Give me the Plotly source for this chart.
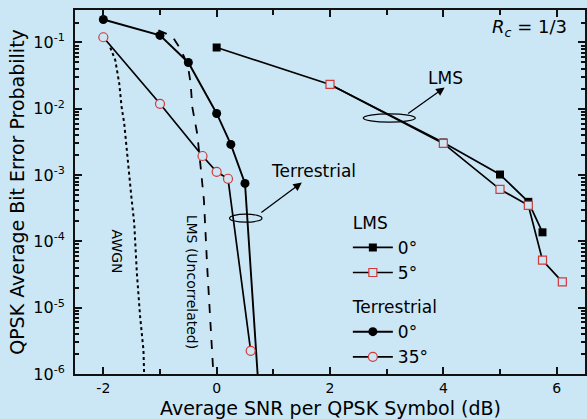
import plotly.graph_objects as go

# ---- data ----
lms0_x = [0, 2, 4, 5, 5.5, 5.75]
lms0_y = [0.084, 0.0233, 0.0031, 0.00102, 3.95e-4, 1.37e-4]

lms5_x = [2, 4, 5, 5.5, 5.75, 6.1]
lms5_y = [0.0233, 0.0030, 6.1e-4, 3.5e-4, 5.2e-5, 2.45e-5]

terr0_x = [-2, -1, -0.5, 0, 0.25, 0.5, 0.73]
terr0_y = [0.222, 0.128, 0.05, 0.0085, 0.0029, 7.5e-4, 8e-7]

terr35_x = [-2, -1, -0.25, 0, 0.2, 0.6]
terr35_y = [0.12, 0.0119, 0.00194, 0.00112, 8.8e-4, 2.24e-6]

awgn_x = [-1.877, -1.789, -1.719, -1.678, -1.631, -1.590, -1.543, -1.503, -1.455, -1.408, -1.350, -1.292, -1.28]
awgn_y = [0.084, 0.054, 0.024, 0.0107, 0.0060, 0.00238, 9.4e-4, 4.5e-4, 1.88e-4, 3.3e-5, 7.2e-6, 2.3e-6, 1.0e-6]

lmsu_x = [-1.028, -0.782, -0.664, -0.576, -0.501, -0.459, -0.431, -0.343, -0.283, -0.225, -0.167, -0.107, -0.062]
lmsu_y = [0.153, 0.124, 0.086, 0.061, 0.041, 0.024, 0.0107, 0.0042, 0.00133, 4.2e-4, 4.1e-5, 4.1e-6, 1.15e-6]

x_tickvals = [-2, 0, 2, 4, 6]
x_ticktext = ["-2", "0", "2", "4", "6"]
y_tickvals = [1e-6, 1e-5, 1e-4, 1e-3, 1e-2, 1e-1]
y_ticktext = ["10<sup>-6</sup>", "10<sup>-5</sup>", "10<sup>-4</sup>",
              "10<sup>-3</sup>", "10<sup>-2</sup>", "10<sup>-1</sup>"]

BG = "#cbe7f6"
RED = "#d23a3a"
FONT = "DejaVu Sans"

fig = go.Figure()

fig.add_trace(go.Scatter(x=awgn_x, y=awgn_y, mode="lines", showlegend=False,
                         line=dict(color="black", width=2, dash="dot")))
fig.add_trace(go.Scatter(x=lmsu_x, y=lmsu_y, mode="lines", showlegend=False,
                         line=dict(color="black", width=1.8, dash="dash")))

fig.add_trace(go.Scatter(x=lms0_x, y=lms0_y, mode="lines+markers", name="0°",
                         legendgroup="lms", legendgrouptitle_text="LMS",
                         line=dict(color="black", width=1.7),
                         marker=dict(symbol="square", size=8, color="black")))
fig.add_trace(go.Scatter(x=lms5_x, y=lms5_y, mode="lines+markers", name="5°",
                         legendgroup="lms",
                         line=dict(color="black", width=1.7),
                         marker=dict(symbol="square", size=8, color=BG,
                                     line=dict(color=RED, width=1.2))))
fig.add_trace(go.Scatter(x=terr0_x, y=terr0_y, mode="lines+markers", name="0°",
                         legendgroup="terr", legendgrouptitle_text="Terrestrial",
                         line=dict(color="black", width=1.9),
                         marker=dict(symbol="circle", size=9, color="black")))
fig.add_trace(go.Scatter(x=terr35_x, y=terr35_y, mode="lines+markers", name="35°",
                         legendgroup="terr",
                         line=dict(color="black", width=1.7),
                         marker=dict(symbol="circle", size=9, color=BG,
                                     line=dict(color=RED, width=1.2))))

annotations = [
    dict(x=0.5, y=0, xref="paper", yref="paper", yanchor="middle", yshift=-34,
         text="Average SNR per QPSK Symbol (dB)", showarrow=False,
         font=dict(size=19)),
    dict(x=4.046, y=-1.538, text="LMS", showarrow=False, font=dict(size=17)),
    dict(x=1.708, y=-2.941, text="Terrestrial", showarrow=False, font=dict(size=17)),
    dict(x=5.52, y=-0.784, text="<i>R</i><sub><i>c</i></sub> = 1/3", showarrow=False,
         font=dict(size=18)),
    dict(x=-1.766, y=-4.148, text="AWGN", showarrow=False, textangle=90,
         font=dict(size=14)),
    dict(x=-0.431, y=-4.611, text="LMS (Uncorrelated)", showarrow=False, textangle=90,
         font=dict(size=14)),
    dict(x=4.023, y=-1.679, ax=-38, ay=27, text="", showarrow=True,
         arrowhead=2, arrowsize=1.3, arrowwidth=1.3, arrowcolor="black"),
    dict(x=1.503, y=-3.112, ax=-42, ay=31, text="", showarrow=True,
         arrowhead=2, arrowsize=1.3, arrowwidth=1.3, arrowcolor="black"),
]

shapes = [
    dict(type="circle", xref="x", yref="y", x0=0.227, x1=0.80,
         y0=10 ** -3.71, y1=10 ** -3.59, line=dict(color="black", width=1.2)),
    dict(type="circle", xref="x", yref="y", x0=2.587, x1=3.506,
         y0=10 ** -2.2, y1=10 ** -2.077, line=dict(color="black", width=1.2)),
]

axis_common = dict(showline=True, linecolor="#111", linewidth=2, mirror="ticks",
                   ticks="inside", tickcolor="#111", tickwidth=2, ticklen=7,
                   showgrid=False, zeroline=False, automargin=False)

fig.update_layout(
    width=587, height=419,
    margin=dict(l=75, r=2, t=10, b=45),
    paper_bgcolor=BG, plot_bgcolor=BG,
    font=dict(family=FONT, color="black", size=16),
    annotations=annotations, shapes=shapes,
    xaxis=dict(range=[-2.5, 6.5], tickvals=x_tickvals, ticktext=x_ticktext,
               tickfont=dict(size=14), ticklabelstandoff=0,
               minor=dict(dtick=1, tick0=0, ticks="inside", ticklen=5, tickwidth=2,
                          tickcolor="#111", showgrid=False),
               **axis_common),
    yaxis=dict(type="log", range=[-6, -0.51], tickvals=y_tickvals, ticktext=y_ticktext,
               tickfont=dict(size=16), ticklabelstandoff=5,
               minor=dict(ticks="inside", ticklen=4, tickwidth=1.5, tickcolor="#111",
                          dtick="D1", showgrid=False),
               title=dict(text="QPSK Average Bit Error Probability", font=dict(size=19),
                          standoff=4),
               **axis_common),
    legend=dict(x=0.535, y=0.465, xanchor="left", yanchor="top",
                bgcolor="rgba(0,0,0,0)", font=dict(size=17),
                groupclick="toggleitem", tracegroupgap=9,
                grouptitlefont=dict(size=17), itemwidth=40),
)

fig.write_html("out.html", config={"displayModeBar": False},
               post_script="document.body.style.margin='0';"
                           "document.body.style.background='" + BG + "';")
